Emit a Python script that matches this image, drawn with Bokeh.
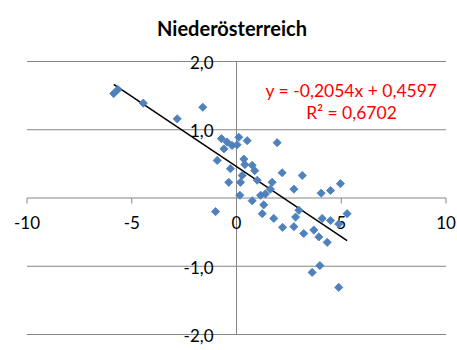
from bokeh.plotting import figure
from bokeh.models import ColumnDataSource, Label, Range1d
from bokeh.core.properties import value
from bokeh.embed import file_html
from bokeh.resources import INLINE

# ---- data ----
title_text = "Niederösterreich"
x_vals = [-5.86, -5.66, -4.45, -2.83, -1.61,
          -0.72, -0.45, -0.60, -0.21, 0.11, 0.03, 0.51, 1.94,
          -0.92, -0.29, 0.35, 0.40, 0.75, 0.87, 0.27, -0.37, 0.19, 0.99,
          2.18, 3.14, 1.70, 1.62, 2.74, 1.38, 1.15, 0.16, 0.75, 1.30, 1.23,
          2.98, 2.82, 1.78, -1.00, 2.20,
          4.04, 4.49, 4.96, 5.28, 2.74, 3.21, 3.69, 3.93, 4.09, 4.49, 4.88,
          4.33, 3.61, 3.98, 4.88]
y_vals = [1.53, 1.59, 1.39, 1.16, 1.33,
          0.87, 0.82, 0.72, 0.77, 0.89, 0.78, 0.84, 0.81,
          0.55, 0.43, 0.57, 0.49, 0.48, 0.40, 0.33, 0.23, 0.23, 0.26,
          0.37, 0.33, 0.23, 0.13, 0.13, 0.06, 0.04, 0.04, -0.04, -0.10, -0.23,
          -0.18, -0.28, -0.30, -0.20, -0.43,
          0.07, 0.11, 0.21, -0.23, -0.42, -0.52, -0.47, -0.57, -0.30, -0.33, -0.38,
          -0.65, -1.09, -0.99, -1.31]
trend_slope = -0.2054
trend_intercept = 0.4597
r_squared_text = "0,6702"
equation_text = "y = -0,2054x + 0,4597"
x_ticks = [-10, -5, 0, 5, 10]
x_tick_labels = ["-10", "-5", "0", "5", "10"]
y_ticks = [2, 1, -1, -2]
y_tick_labels = ["2,0", "1,0", "-1,0", "-2,0"]
x_min, x_max = -10, 10
y_min, y_max = -2, 2

# ---- pixel helpers (frame covers whole canvas; canvas origin at top-left) ----
SX = 20.95   # px per x unit
SY = 68.25   # px per y unit
PX0 = 236.0  # pixel x of x=0
PY0 = 197.5  # pixel y of y=0
def dx(px):
    return (px - PX0) / SX
def dy(py):
    return (PY0 - py) / SY

W, H = 457, 346
p = figure(width=W, height=H, output_backend="svg", toolbar_location=None,
           x_range=Range1d(dx(0), dx(W)), y_range=Range1d(dy(H), dy(0)),
           x_axis_type=None, y_axis_type=None, min_border=0,
           background_fill_color="white", border_fill_color="white")
p.outline_line_color = None
p.grid.visible = False

GRID = "#868686"

# horizontal gridlines and x axis line
h_levels = y_ticks + [0]
p.segment(x0=[x_min] * len(h_levels), x1=[x_max] * len(h_levels),
          y0=h_levels, y1=h_levels, line_color=GRID, line_width=1)
# vertical y axis line
p.segment(x0=[0], x1=[0], y0=[y_min], y1=[y_max], line_color=GRID, line_width=1)
# x tick marks (outside, downward)
tick_len = 5.5 / SY
tx = [t for t in x_ticks if t != 0]
p.segment(x0=tx, x1=tx, y0=[0] * len(tx), y1=[-tick_len] * len(tx),
          line_color=GRID, line_width=1)

# tick labels
xs_src = ColumnDataSource(dict(x=x_ticks, y=[0] * len(x_ticks), t=x_tick_labels))
p.text(x="x", y="y", text="t", source=xs_src, text_font=value("Lato"),
       text_font_size=value("17px"), text_align="center", text_baseline="middle",
       y_offset=24, text_color="black")
ys_src = ColumnDataSource(dict(x=[0] * len(y_ticks), y=y_ticks, t=y_tick_labels))
p.text(x="x", y="y", text="t", source=ys_src, text_font=value("Lato"),
       text_font_size=value("17px"), text_align="right", text_baseline="middle",
       x_offset=-23, y_offset=1, text_color="black")

# trend line
tx0, tx1 = min(x_vals), max(x_vals)
p.line(x=[tx0, tx1], y=[trend_slope * tx0 + trend_intercept, trend_slope * tx1 + trend_intercept],
       line_color="black", line_width=1.5)

# scatter points (diamonds)
src = ColumnDataSource(dict(x=x_vals, y=y_vals))
p.scatter(x="x", y="y", source=src, marker="square", size=5.8, angle=0.785398,
          fill_color="#4F81BD", line_color="#4A7EBB", line_width=0.8)

# title
p.add_layout(Label(x=dx(231.5), y=dy(27.7), text=title_text, text_font="Lato",
                   text_font_style="bold", text_font_size="20px",
                   text_align="center", text_baseline="alphabetic", text_color="black"))
# equation
p.add_layout(Label(x=dx(351), y=dy(89.5), text=equation_text, text_font="Lato",
                   text_font_size="17.5px", text_align="center",
                   text_baseline="alphabetic", text_color="#FF0000"))
p.add_layout(Label(x=dx(351), y=dy(112), text="R² = " + r_squared_text, text_font="Lato",
                   text_font_size="17.5px", text_align="center",
                   text_baseline="alphabetic", text_color="#FF0000"))

open("out.html", "w").write(file_html(p, INLINE))
